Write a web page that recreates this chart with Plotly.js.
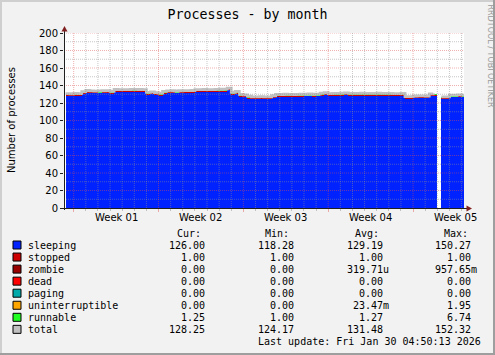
<!DOCTYPE html>
<html><head><meta charset="utf-8">
<script src="https://cdn.plot.ly/plotly-3.0.1.min.js"></script>
<style>html,body{margin:0;padding:0;background:#f2f2f2;}#chart{width:495px;height:355px;}
#chart .js-fill{shape-rendering:crispEdges;}</style>
</head><body><div id="chart"></div>
<script>
// ---- data (8-hour samples starting 2025-12-28 08:00) ----
const sampleStartUTC = Date.UTC(2025, 11, 28, 8, 0, 0);
const sampleStepHours = 8;
const sleeping = [
128, 128, 128.2, 128, 130, 132, 131.2, 131.2, 131, 131.2,
131.4, 130.5, 132.7, 132.7, 132.5, 132.7, 132.9, 132.7, 132.7, 132.5,
129.5, 130, 129, 128.5, 130.5, 131.2, 131.2, 131, 131.2, 131.4,
131.5, 131.5, 132.5, 132.5, 132.7, 132.5, 132.5, 132.7, 133, 133,
134.5, 129.5, 130.5, 127, 126.5, 125, 124.3, 124.3, 124.5, 124.3,
124.3, 125.5, 127, 127, 127.2, 127, 127, 127, 127.2, 127.5,
127.5, 127.3, 127.5, 128.5, 129, 128, 128.3, 128.3, 128.5, 128.8,
128.3, 128.3, 128.3, 128.5, 128.3, 128.3, 128.3, 128.5, 128.3, 128.3,
128.3, 128, 128, 128.3, 124.5, 124.5, 125.3, 125.3, 125.5, 125.3,
127.8, 128, null, 124.3, 124.3, 126.3, 126.3, 126.5, 126.3, 126.3];
const stopped = [
1,1,1,1,1,1,1,1,1,1, 1,1,1,1,1,1,1,1,1,1, 1,1,1,1,1,1,1,1,1,1,
1,1,1,1,1,1,1,1,1,1, 1,1,1,1,1,1,1,1,1,1, 1,1,1,1,1,1,1,1,1,1,
1,1,1,1,1,1,1,1,1,1, 1,1,1,1,1,1,1,1,1,1, 1,1,1,1,1,1,1,1,1,1,
1,1,null,1,1,1,1,1,1,1];
const runnable = [
1.2,1.2,1.1,1.2,1.3,3.5,1.2,1.1,1.2,1.2,
1.1,1.2,1.3,2.0,1.2,1.1,1.2,1.2,1.3,1.2,
1.2,1.1,1.2,1.2,1.3,2.2,1.2,1.8,1.2,1.1,
2.0,1.2,1.2,1.1,1.2,1.3,1.2,1.2,1.1,1.2,
2.5,1.2,1.2,1.3,1.2,1.1,1.5,1.2,1.2,1.1,
1.2,1.2,1.3,1.2,1.1,1.2,1.2,1.2,1.3,2.3,
1.2,1.2,2.5,1.2,1.1,1.2,1.2,1.3,1.2,1.2,
2.5,1.2,1.1,1.2,1.2,1.3,1.2,1.2,1.2,1.1,
1.2,1.2,1.2,2.4,1.2,1.1,1.2,2.0,1.2,1.2,
2.2,1.2,null,1.2,1.2,1.8,1.2,1.2,1.3,1.2];
const total = [
130.8, 130.6, 131.0, 130.7, 132.9, 134.3, 133.9, 133.6, 133.8, 134.0,
134.1, 133.2, 135.4, 135.3, 135.2, 135.3, 135.6, 135.5, 135.4, 135.2,
132.2, 132.7, 131.8, 131.3, 133.2, 133.9, 134.0, 133.7, 134.0, 134.1,
134.2, 134.3, 135.2, 135.3, 135.4, 135.2, 135.3, 135.5, 135.7, 135.8,
137.0, 132.3, 133.2, 129.8, 129.2, 127.8, 127.0, 127.1, 127.2, 127.0,
127.0, 128.3, 129.8, 129.7, 130.0, 129.8, 129.7, 129.8, 130.0, 130.0,
130.3, 130.0, 130.1, 131.2, 131.8, 130.7, 131.0, 131.1, 131.2, 131.5,
131.0, 131.0, 131.1, 131.2, 131.0, 131.1, 131.0, 131.3, 131.0, 131.1,
131.0, 130.8, 130.7, 131.0, 127.2, 127.3, 128.0, 128.1, 128.2, 128.0,
130.5, 130.8, null, 127.0, 127.1, 129.0, 129.0, 129.2, 129.0, 129.1];

const xRange = ['2025-12-28 04:50:13', '2026-01-30 04:50:13'];
const weekLabels = ['Week 01', 'Week 02', 'Week 03', 'Week 04', 'Week 05'];
const weekLabelDates = ['2026-01-01 12:00', '2026-01-08 12:00', '2026-01-15 12:00', '2026-01-22 12:00', '2026-01-29 12:00'];

const legendNames = ['sleeping','stopped','zombie','dead','paging','uninterruptible','runnable','total'];
const legendColors = ['#0022ff','#cc0000','#990000','#ff0000','#00aaaa','#ffa500','#22ff22','#c0c0c0'];
const curVals = ['126.00','1.00','0.00','0.00','0.00','0.00','1.25','128.25'];
const minVals = ['118.28','1.00','0.00','0.00','0.00','0.00','1.00','124.17'];
const avgVals = ['129.19','1.00','319.71u','0.00','0.00','23.47m','1.27','131.48'];
const maxVals = ['150.27','1.00','957.65m','0.00','0.00','1.95','6.74','152.32'];
const columnHeaders = ['Cur:','Min:','Avg:','Max:'];
const lastUpdate = 'Last update: Fri Jan 30 04:50:13 2026';

// ---- geometry helpers (layout only) ----
const L = 64, T = 33, W = 400, H = 175;
const px2x = p => (p - L) / W;
const px2y = p => (T + H - p) / H;

const times = sleeping.map((_, i) => new Date(sampleStartUTC + i * sampleStepHours * 3600e3).toISOString().slice(0, 19).replace('T', ' '));

const traces = [
  {x: times, y: sleeping, type: 'scatter', mode: 'lines', stackgroup: 'p', fillcolor: '#0022ff', line: {width: 0, shape: 'hv', color: '#0022ff'}, hoverinfo: 'skip'},
  {x: times, y: stopped, type: 'scatter', mode: 'lines', stackgroup: 'p', fillcolor: '#cc0000', line: {width: 0, shape: 'hv', color: '#cc0000'}, hoverinfo: 'skip'},
  {x: times, y: runnable, type: 'scatter', mode: 'lines', stackgroup: 'p', fillcolor: '#22ff22', line: {width: 0, shape: 'hv', color: '#22ff22'}, hoverinfo: 'skip'},
  {x: times, y: total, type: 'scatter', mode: 'lines', line: {width: 2.8, shape: 'hv', color: '#c0c0c0'}, connectgaps: false, hoverinfo: 'skip'}
];

const GRID = 'rgba(143,143,143,0.5)';
const MGRID = 'rgba(222,79,79,0.45)';
const shapes = [];
// grid above traces (as rrdtool does)
for (let v = 10; v <= 200; v += 10) {
  shapes.push({type: 'line', layer: 'above', xref: 'paper', yref: 'y', x0: 0, x1: 1, y0: v, y1: v,
    line: {color: v % 20 === 0 ? MGRID : GRID, width: 1, dash: '1px,1px'}});
}
for (let t = Date.UTC(2025, 11, 29); t < Date.UTC(2026, 0, 30, 4); t += 86400e3) {
  const d = new Date(t);
  const s = d.toISOString().slice(0, 10);
  shapes.push({type: 'line', layer: 'above', xref: 'x', yref: 'paper', x0: s, x1: s, y0: 0, y1: 1,
    line: {color: d.getUTCDay() === 1 ? MGRID : GRID, width: 1, dash: '1px,1px'}});
}
// frame
shapes.push({type: 'rect', xref: 'paper', yref: 'paper', x0: px2x(0), x1: px2x(495), y0: px2y(0), y1: px2y(2), fillcolor: '#cfcfcf', line: {width: 0}});
shapes.push({type: 'rect', xref: 'paper', yref: 'paper', x0: px2x(0), x1: px2x(2), y0: px2y(0), y1: px2y(355), fillcolor: '#cfcfcf', line: {width: 0}});
shapes.push({type: 'rect', xref: 'paper', yref: 'paper', x0: px2x(0), x1: px2x(495), y0: px2y(353), y1: px2y(355), fillcolor: '#9e9e9e', line: {width: 0}});
shapes.push({type: 'rect', xref: 'paper', yref: 'paper', x0: px2x(493), x1: px2x(495), y0: px2y(0), y1: px2y(355), fillcolor: '#9e9e9e', line: {width: 0}});
// axes with arrows
shapes.push({type: 'line', layer: 'above', xref: 'paper', yref: 'paper', x0: px2x(64.5), x1: px2x(64.5), y0: px2y(210), y1: px2y(30), line: {color: '#1f1f1f', width: 1}});
shapes.push({type: 'line', layer: 'above', xref: 'paper', yref: 'paper', x0: px2x(61), x1: px2x(467), y0: px2y(208.5), y1: px2y(208.5), line: {color: '#1f1f1f', width: 1}});
shapes.push({type: 'path', layer: 'above', xref: 'paper', yref: 'paper',
  path: `M ${px2x(64.5)} ${px2y(26)} L ${px2x(61.5)} ${px2y(31.5)} L ${px2x(67.5)} ${px2y(31.5)} Z`, fillcolor: '#801f1f', line: {width: 0}});
shapes.push({type: 'path', layer: 'above', xref: 'paper', yref: 'paper',
  path: `M ${px2x(472)} ${px2y(208.5)} L ${px2x(466.5)} ${px2y(205.5)} L ${px2x(466.5)} ${px2y(211.5)} Z`, fillcolor: '#801f1f', line: {width: 0}});

const annotations = [];
const sans = {family: 'DejaVu Sans', size: 10, color: '#000'};
const mono = {family: 'DejaVu Sans Mono', size: 10, color: '#000'};
annotations.push({xref: 'paper', yref: 'paper', x: px2x(11), y: px2y(120), text: 'Number of processes', textangle: -90,
  showarrow: false, font: sans, xanchor: 'center', yanchor: 'middle', borderpad: 0});
weekLabels.forEach((w, i) => annotations.push({xref: 'x', yref: 'paper', x: weekLabelDates[i], y: px2y(217.3), text: w,
  showarrow: false, font: sans, xanchor: 'center', yanchor: 'middle', borderpad: 0}));
annotations.push({xref: 'paper', yref: 'paper', x: px2x(490.5), y: px2y(56), text: 'RRDTOOL / TOBI OETIKER', textangle: 90,
  showarrow: false, font: {family: 'DejaVu Sans', size: 8, color: '#9a9a9a'}, xanchor: 'center', yanchor: 'middle', borderpad: 0});

const headerX = [175.5, 264.3, 354, 442.7];
columnHeaders.forEach((h, i) => annotations.push({xref: 'paper', yref: 'paper', x: px2x(headerX[i]), y: px2y(233), text: h,
  showarrow: false, font: mono, xanchor: 'left', yanchor: 'middle', borderpad: 0}));
const colRight = [211.5, 300.5, 389.5, 478.5];
const cols = [curVals, minVals, avgVals, maxVals];
const fmt = s => /[0-9]$/.test(s) ? s + '\u00a0' : s;
legendNames.forEach((n, r) => {
  const yc = 245 + r * 12.05;
  shapes.push({type: 'rect', xref: 'paper', yref: 'paper', x0: px2x(13), x1: px2x(21), y0: px2y(yc - 4), y1: px2y(yc + 4),
    fillcolor: legendColors[r], line: {color: '#000', width: 1}});
  annotations.push({xref: 'paper', yref: 'paper', x: px2x(26.5), y: px2y(yc), text: n,
    showarrow: false, font: mono, xanchor: 'left', yanchor: 'middle', borderpad: 0});
  cols.forEach((c, k) => annotations.push({xref: 'paper', yref: 'paper', x: px2x(colRight[k]), y: px2y(yc), text: fmt(c[r]),
    showarrow: false, font: mono, xanchor: 'right', yanchor: 'middle', borderpad: 0}));
});
annotations.push({xref: 'paper', yref: 'paper', x: px2x(481.5), y: px2y(341.6), text: lastUpdate,
  showarrow: false, font: mono, xanchor: 'right', yanchor: 'middle', borderpad: 0});

const layout = {
  width: 495, height: 355,
  margin: {l: L, r: 495 - L - W, t: T, b: 355 - T - H, pad: 0},
  paper_bgcolor: '#f2f2f2', plot_bgcolor: '#ffffff',
  showlegend: false,
  title: {text: 'Processes - by month', font: {family: 'DejaVu Sans Mono', size: 13.3, color: '#000'},
    x: 0.5, xref: 'container', xanchor: 'center', y: 1 - 14 / 355, yref: 'container', yanchor: 'middle'},
  xaxis: {type: 'date', range: xRange, showgrid: false, zeroline: false, showline: false,
    showticklabels: false, ticks: 'outside', ticklen: 3, tickcolor: MGRID, tick0: '2025-12-29', dtick: 604800000,
    minor: {dtick: 86400000, tick0: '2025-12-29', ticks: 'outside', ticklen: 2, tickcolor: GRID, showgrid: false},
    fixedrange: true},
  yaxis: {range: [0, 200], dtick: 20, showgrid: false, zeroline: false, showline: false,
    ticks: 'outside', ticklen: 3, tickcolor: '#1f1f1f', tickfont: sans, ticklabelstandoff: 0, fixedrange: true},
  shapes: shapes,
  annotations: annotations
};
Plotly.newPlot('chart', traces, layout, {displayModeBar: false, staticPlot: true});
</script></body></html>
